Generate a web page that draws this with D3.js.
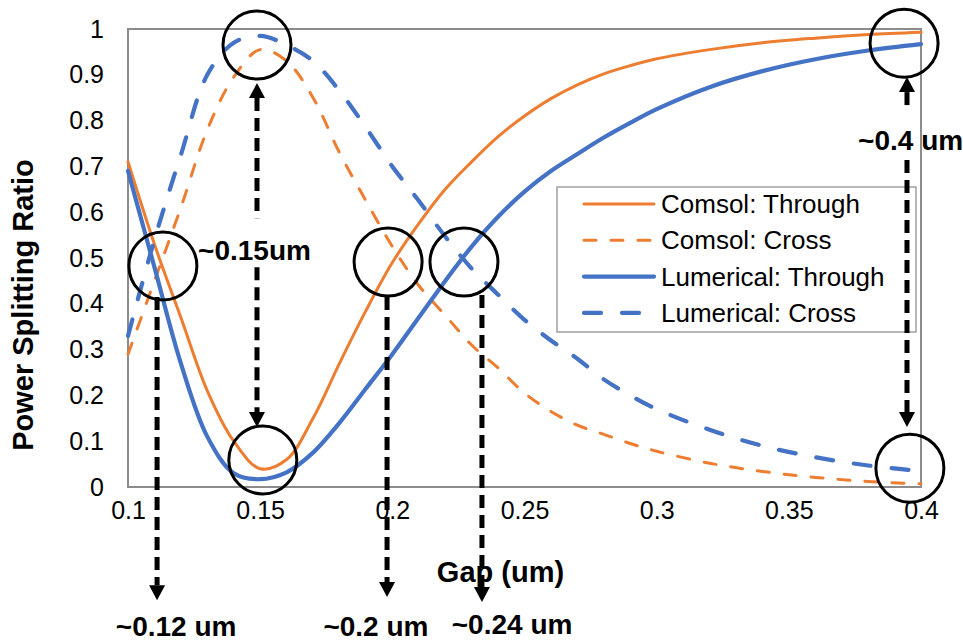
<!DOCTYPE html>
<html>
<head>
<meta charset="utf-8">
<script src="https://cdn.jsdelivr.net/npm/d3@7"></script>
<style>
  html, body { margin: 0; padding: 0; background: #fff; }
  svg { display: block; }
  text { font-family: "Liberation Sans", Arial, sans-serif; fill: #000; }
</style>
</head>
<body>
<div id="chart"></div>
<script>
// data
const gaps = [0.10, 0.11, 0.12, 0.13, 0.14, 0.15, 0.16, 0.17, 0.18, 0.19, 0.20, 0.21, 0.22,
              0.23, 0.24, 0.25, 0.26, 0.27, 0.28, 0.29, 0.30, 0.32, 0.34, 0.36, 0.38, 0.40];
const comsolThrough = [0.71, 0.53, 0.37, 0.21, 0.10, 0.04, 0.06, 0.15, 0.27, 0.385, 0.49, 0.575, 0.65,
                       0.71, 0.765, 0.81, 0.848, 0.878, 0.902, 0.92, 0.935, 0.955, 0.97, 0.98, 0.988, 0.993];
const comsolCross = [0.29, 0.45, 0.61, 0.78, 0.895, 0.955, 0.93, 0.85, 0.73, 0.625, 0.525, 0.44, 0.375,
                     0.31, 0.26, 0.205, 0.165, 0.135, 0.115, 0.095, 0.078, 0.052, 0.034, 0.021, 0.012, 0.007];
const lumericalThrough = [0.69, 0.48, 0.27, 0.11, 0.03, 0.017, 0.032, 0.075, 0.14, 0.215, 0.29, 0.37, 0.45,
                          0.525, 0.59, 0.645, 0.69, 0.727, 0.763, 0.795, 0.825, 0.873, 0.908, 0.934, 0.953, 0.967];
const lumericalCross = [0.33, 0.54, 0.725, 0.90, 0.97, 0.985, 0.965, 0.93, 0.865, 0.785, 0.70, 0.625, 0.547,
                        0.477, 0.42, 0.365, 0.32, 0.28, 0.235, 0.20, 0.17, 0.125, 0.09, 0.065, 0.047, 0.035];
const seriesNames = ["Comsol: Through", "Comsol: Cross", "Lumerical: Through", "Lumerical: Cross"];

const xTicks = [0.1, 0.15, 0.2, 0.25, 0.3, 0.35, 0.4];
const xTickLabels = ["0.1", "0.15", "0.2", "0.25", "0.3", "0.35", "0.4"];
const yTicks = [0, 0.1, 0.2, 0.3, 0.4, 0.5, 0.6, 0.7, 0.8, 0.9, 1];
const yTickLabels = ["0", "0.1", "0.2", "0.3", "0.4", "0.5", "0.6", "0.7", "0.8", "0.9", "1"];

// annotation rings and arrows, in chart units
const rings = [[0.1488, 0.965], [0.1132, 0.4825], [0.151, 0.059], [0.1984, 0.491],
               [0.2271, 0.491], [0.3936, 0.969], [0.3958, 0.041]];
const arrows = [
    {x: 0.111, y1: 0.415, y2: -0.247, both: false},
    {x: 0.1488, y1: 0.882, y2: 0.131, both: true, gap: [0.587, 0.48]},
    {x: 0.198, y1: 0.415, y2: -0.24, both: false},
    {x: 0.2339, y1: 0.419, y2: -0.251, both: false},
    {x: 0.3947, y1: 0.895, y2: 0.131, both: true, gap: [0.8275, 0.714]}
];
const notes = [
    {text: "~0.15um", x: 0.1265, y: 0.4956, anchor: "start"},
    {text: "~0.12 um", x: 0.1182, y: -0.3253, anchor: "middle"},
    {text: "~0.2 um", x: 0.1938, y: -0.3253, anchor: "middle"},
    {text: "~0.24 um", x: 0.2453, y: -0.321, anchor: "middle"},
    {text: "~0.4 um", x: 0.3762, y: 0.736, anchor: "start"}
];

const W = 963, H = 642;
const margin = {top: 29, right: 42, bottom: 155, left: 128};

const svg = d3.select("#chart").append("svg")
    .attr("width", W)
    .attr("height", H);

const x = d3.scaleLinear().domain([0.1, 0.4]).range([margin.left, W - margin.right]);
const y = d3.scaleLinear().domain([0, 1]).range([H - margin.bottom, margin.top]);

const styles = [
    {color: "#ED7D31", width: 3, dash: null},
    {color: "#ED7D31", width: 3, dash: "12,15"},
    {color: "#4472C4", width: 4.2, dash: null},
    {color: "#4472C4", width: 4.2, dash: "17,21"}
];
const series = [comsolThrough, comsolCross, lumericalThrough, lumericalCross].map((vals, i) => ({
    name: seriesNames[i],
    points: gaps.map((g, j) => [g, vals[j]]),
    style: styles[i]
}));

// axes (labels only, no tick marks)
const xAxis = svg.append("g")
    .attr("transform", `translate(0,${H - margin.bottom})`)
    .call(d3.axisBottom(x).tickValues(xTicks).tickFormat((d, i) => xTickLabels[i]).tickSize(0).tickPadding(14));
const yAxis = svg.append("g")
    .attr("transform", `translate(${margin.left},0)`)
    .call(d3.axisLeft(y).tickValues(yTicks).tickFormat((d, i) => yTickLabels[i]).tickSize(0).tickPadding(24));
[xAxis, yAxis].forEach(a => {
    a.select(".domain").remove();
    a.selectAll("text").attr("font-size", 25).attr("font-family", "Liberation Sans, Arial, sans-serif").attr("fill", "#000");
});

// plot frame
svg.append("rect")
    .attr("x", x(0.1)).attr("y", y(1))
    .attr("width", x(0.4) - x(0.1)).attr("height", y(0) - y(1))
    .attr("fill", "none")
    .attr("stroke", "#8c8c8c")
    .attr("stroke-width", 2);

// series
const line = d3.line()
    .x(d => x(d[0]))
    .y(d => y(d[1]))
    .curve(d3.curveCatmullRom.alpha(0.5));

svg.append("g")
    .selectAll("path")
    .data(series)
    .enter().append("path")
    .attr("d", d => line(d.points))
    .attr("fill", "none")
    .attr("stroke", d => d.style.color)
    .attr("stroke-width", d => d.style.width)
    .attr("stroke-dasharray", d => d.style.dash)
    .attr("stroke-linecap", "round");

// axis titles
svg.append("text")
    .attr("x", (x(0.1) + x(0.4)) / 2 - 24)
    .attr("y", 582)
    .attr("text-anchor", "middle")
    .attr("font-size", 29)
    .attr("font-weight", "bold")
    .text("Gap (um)");

svg.append("text")
    .attr("transform", `translate(33,${(y(0) + y(1)) / 2 + 47}) rotate(-90)`)
    .attr("text-anchor", "middle")
    .attr("font-size", 29)
    .attr("font-weight", "bold")
    .text("Power Splitting Ratio");

// legend
const legend = svg.append("g").attr("transform", "translate(557,187)");
legend.append("rect")
    .attr("width", 359).attr("height", 145)
    .attr("fill", "#fff")
    .attr("stroke", "#a0a0a0")
    .attr("stroke-width", 1.5);
const item = legend.selectAll("g.item")
    .data(series)
    .enter().append("g")
    .attr("class", "item")
    .attr("transform", (d, i) => `translate(0,${17 + i * 36.3})`);
item.append("line")
    .attr("x1", 27).attr("x2", 97)
    .attr("stroke", d => d.style.color)
    .attr("stroke-width", d => d.style.width)
    .attr("stroke-dasharray", d => d.style.dash)
    .attr("stroke-linecap", "round");
item.append("text")
    .attr("x", 104)
    .attr("y", 9)
    .attr("font-size", 26)
    .text(d => d.name);

// annotation rings
svg.append("g")
    .selectAll("circle")
    .data(rings)
    .enter().append("circle")
    .attr("cx", d => x(d[0]))
    .attr("cy", d => y(d[1]))
    .attr("r", 34)
    .attr("fill", "none")
    .attr("stroke", "#000")
    .attr("stroke-width", 3);

// dashed arrows
const head = 15, half = 8;
const arrowG = svg.append("g");
arrows.forEach(a => {
    const px = x(a.x), top = y(a.y1), bot = y(a.y2);
    const start = a.both ? top + head : top;
    const end = bot - head;
    const segs = a.gap ? [[start, y(a.gap[0])], [y(a.gap[1]), end]] : [[start, end]];
    segs.forEach(s => {
        arrowG.append("line")
            .attr("x1", px).attr("x2", px)
            .attr("y1", s[0]).attr("y2", s[1])
            .attr("stroke", "#000")
            .attr("stroke-width", 5)
            .attr("stroke-dasharray", "13,7");
    });
    arrowG.append("path")
        .attr("d", `M${px - half},${bot - head}L${px + half},${bot - head}L${px},${bot}Z`)
        .attr("fill", "#000");
    if (a.both) {
        arrowG.append("path")
            .attr("d", `M${px - half},${top + head}L${px + half},${top + head}L${px},${top}Z`)
            .attr("fill", "#000");
    }
});

svg.append("g")
    .selectAll("text")
    .data(notes)
    .enter().append("text")
    .attr("x", d => x(d.x))
    .attr("y", d => y(d.y))
    .attr("text-anchor", d => d.anchor)
    .attr("font-size", 28)
    .attr("font-weight", "bold")
    .text(d => d.text);
</script>
</body>
</html>
